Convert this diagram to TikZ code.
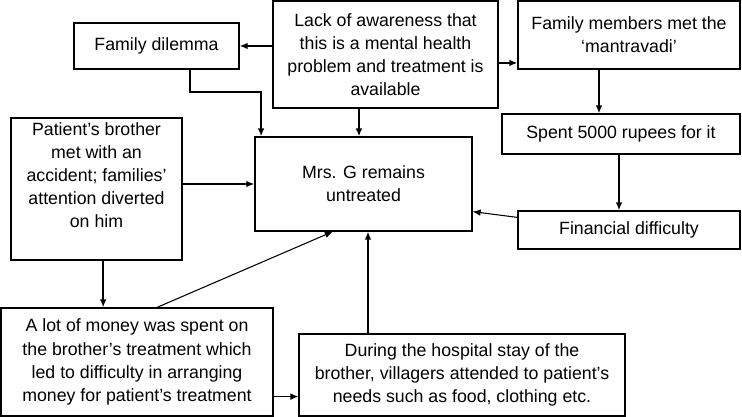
\documentclass[tikz,border=0pt]{standalone}
\usepackage{fontspec}
\setmainfont{Liberation Sans}
\usepackage{tikz}
\usetikzlibrary{calc,arrows.meta}

\begin{document}
\begin{tikzpicture}[x=0.75pt,y=-0.75pt,>={Latex[length=6pt,width=5pt]},
                line cap=butt,line join=miter,
                box/.style={draw,line width=0.9pt,align=center,inner sep=2pt,
                  font=\fontsize{13.3}{17.3}\selectfont},
                arr/.style={->,line width=1.3pt},
                thin arr/.style={->,line width=0.8pt}]
            \useasboundingbox (0,0) rectangle (742,417);
            % boxes
            \node[box,minimum width=123.75pt,minimum height=34.5pt] (dilemma) at (156.5,46) {Family dilemma};
            \node[box,minimum width=168.75pt,minimum height=80.25pt] (lack) at (385.5,54.5)
                {Lack of awareness that\\ this is a mental health\\ problem and treatment is\\ available};
            \node[box,minimum width=166.5pt,minimum height=51pt] (members) at (629,35)
                {Family members met the\\ `mantravadi'};
            \node[box,minimum width=178.5pt,minimum height=30pt] (spent) at (621,134) {Spent 5000 rupees for it};
            \node[box,minimum width=166.5pt,minimum height=28.5pt] (financial) at (629,230) {Financial difficulty};
            \node[box,minimum width=162.75pt,minimum height=70.5pt] (mrsg) at (363.5,184)
                {Mrs. G remains\\ untreated};
            \node[box,minimum width=128.25pt,minimum height=106.5pt] (brother) at (96.5,189)
                {Patient's brother\\ met with an\\ accident; families'\\ attention diverted\\ on him\\[4pt]};
            \node[box,minimum width=204pt,minimum height=81pt] (money) at (137,362)
                {A lot of money was spent on\\ the brother's treatment which\\ led to difficulty in arranging\\ money for patient's treatment};
            \node[box,minimum width=244.5pt,minimum height=61.5pt] (hospital) at (462,375)
                {During the hospital stay of the\\ brother, villagers attended to patient's\\ needs such as food, clothing etc.};

            % helper points
            \coordinate (m1) at ([yshift=5pt]members.south west);
            \coordinate (d1) at ([xshift=25pt]dilemma.south);
            \coordinate (g1) at ([xshift=5pt]mrsg.north west);
            \coordinate (g2) at ([xshift=-3.4pt]mrsg.north);
            \coordinate (s1) at ([xshift=-22.5pt]members.south);
            \coordinate (b1) at ([xshift=5pt]brother.south);
            \coordinate (h1) at ([xshift=-70.5pt]hospital.north);
            \coordinate (k1) at ([yshift=15pt]hospital.south west);

            % connectors
            \draw[arr] (lack.west |- dilemma.east) -- (dilemma.east);
            \draw[arr] (lack.east |- m1) -- (m1);
            \draw[arr] (d1) -- ++(0,-17pt) -| (g1);
            \draw[arr] (lack.south -| g2) -- (g2);
            \draw[arr] (s1) -- (s1 |- spent.north);
            \draw[arr] ([xshift=-1.5pt]spent.south) -- ([xshift=-1.5pt]spent.south |- financial.north);
            \draw[thin arr] ([yshift=-5.25pt]financial.north west) -- ([yshift=15pt]mrsg.south east);
            \draw[arr] (brother.east |- mrsg.west) -- (mrsg.west);
            \draw[arr] (b1) -- (b1 |- money.north);
            \draw[thin arr] ([xshift=15pt]money.north) -- ([xshift=-23pt]mrsg.south);
            \draw[arr] (h1) -- (h1 |- mrsg.south);
            \draw[thin arr] (money.east |- k1) -- (k1);
        \end{tikzpicture}
\end{document}
